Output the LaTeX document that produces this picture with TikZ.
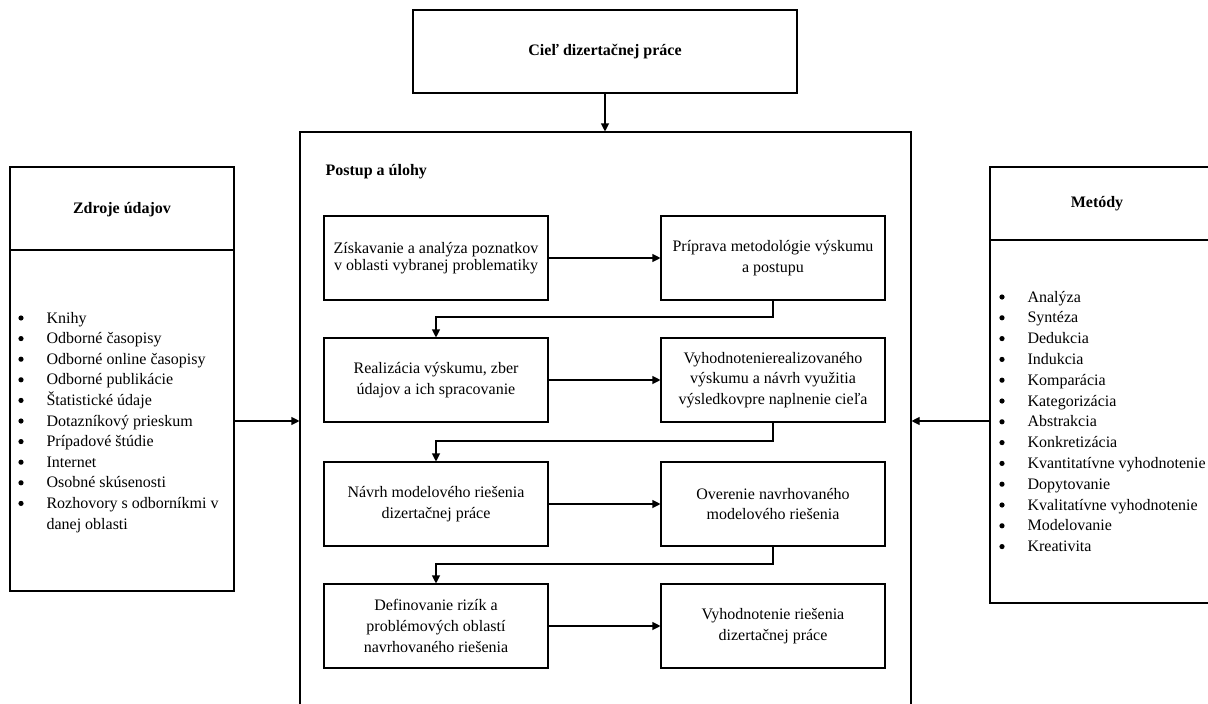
\documentclass[tikz,border=0pt]{standalone}
\usepackage{fontspec}
\setmainfont{Liberation Serif}
\usetikzlibrary{arrows.meta}

\begin{document}
\begin{tikzpicture}[x=1pt,y=-1pt,
  line width=1.1pt,
  every node/.style={font=\fontsize{16}{20.8}\selectfont},
  panel/.style={draw, inner sep=0pt},
  stepbox/.style={draw, minimum width=224pt, minimum height=84pt, align=center, inner sep=2pt},
  arr/.style={-{Triangle[length=8pt,width=8pt]}},
  listitem/.style={anchor=base west, inner sep=0pt},
  dot/.style={circle, fill, inner sep=0pt, minimum size=5.2pt},
  head/.style={font=\bfseries\fontsize{16}{20.8}\selectfont, inner sep=0pt}
]
\useasboundingbox (0,0) rectangle (1208,704);

% goal of the thesis
\node[panel, minimum width=384pt, minimum height=83pt] (goal) at (605,51.5) {};
\node[head] (goaltxt) at (goal.center) {Cieľ dizertačnej práce};

% central panel with the procedure
\node[panel, minimum width=611pt, minimum height=588pt] (main) at (605.5,426) {};
\node[head, anchor=west] (mainhead) at (325,172) {Postup a úlohy};

% left panel: data sources
\node[panel, minimum width=224pt, minimum height=424pt] (src) at (122,379) {};
\draw (10,250) -- (234,250);
\node[head] (srchead) at (122,210) {Zdroje údajov};

% right panel: methods
\node[panel, minimum width=222pt, minimum height=436pt] (meth) at (1101,385) {};
\draw (990,240) -- (1212,240);
\node[head] (methhead) at (1097,204) {Metódy};

% list of data sources
\foreach \t [count=\i from 0] in {Knihy, Odborné časopisy, Odborné online časopisy,
    Odborné publikácie, Štatistické údaje, Dotazníkový prieskum, Prípadové štúdie,
    Internet, Osobné skúsenosti, Rozhovory s odborníkmi v} {
  \node[dot] (sb\i) at (21,318+\i*20.6) {};
  \node[listitem] (st\i) at (46,323+\i*20.6) {\t};
}
\node[listitem] (st10) at (46,323+10*20.6) {danej oblasti};

% list of methods
\foreach \t [count=\i from 0] in {Analýza, Syntéza, Dedukcia, Indukcia, Komparácia,
    Kategorizácia, Abstrakcia, Konkretizácia, Kvantitatívne vyhodnotenie,
    Dopytovanie, Kvalitatívne vyhodnotenie, Modelovanie, Kreativita} {
  \node[dot] (mb\i) at (1002,297+\i*20.8) {};
  \node[listitem] (mt\i) at (1027,302+\i*20.8) {\t};
}

% procedure steps
\node[stepbox, font=\fontsize{16}{17.5}\selectfont] (b1) at (436,258) {Získavanie a analýza poznatkov\\v oblasti vybranej problematiky};
\node[stepbox] (b2) at (773,258) {Príprava metodológie výskumu\\a postupu};
\node[stepbox] (b3) at (436,380) {Realizácia výskumu, zber\\údajov a ich spracovanie};
\node[stepbox] (b4) at (773,380) {Vyhodnotenierealizovaného\\výskumu a návrh využitia\\výsledkovpre naplnenie cieľa};
\node[stepbox] (b5) at (436,504) {Návrh modelového riešenia\\dizertačnej práce};
\node[stepbox] (b6) at (773,504) {Overenie navrhovaného\\modelového riešenia};
\node[stepbox] (b7) at (436,626) {Definovanie rizík a\\problémových oblastí\\navrhovaného riešenia};
\node[stepbox] (b8) at (773,626) {Vyhodnotenie riešenia\\dizertačnej práce};

% connectors
\draw[arr] (goal.south) -- (goal.south |- main.north);
\draw[arr] (src.east |- 0,421) -- (main.west |- 0,421);
\draw[arr] (meth.west |- 0,421) -- (main.east |- 0,421);

\draw[arr] (b1) -- (b2);
\draw[arr] (b3) -- (b4);
\draw[arr] (b5) -- (b6);
\draw[arr] (b7) -- (b8);

\draw[arr] (b2.south) -- (b2.south |- 0,317) -| (b3.north);
\draw[arr] (b4.south) -- (b4.south |- 0,441) -| (b5.north);
\draw[arr] (b6.south) -- (b6.south |- 0,564) -| (b7.north);
\end{tikzpicture}
\end{document}
